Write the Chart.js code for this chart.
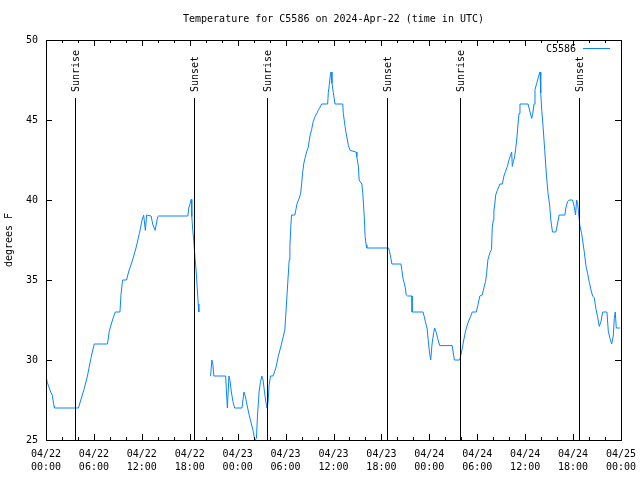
<!DOCTYPE html>
<html>
<head>
<meta charset="utf-8">
<script src="https://cdn.jsdelivr.net/npm/chart.js@4/dist/chart.umd.min.js"></script>
<style>
  html, body { margin: 0; padding: 0; background: #fff; }
  canvas { display: block; }
</style>
</head>
<body>
<canvas id="tempChart" width="640" height="480"></canvas>
<script>
// Data (hours since 04/22 00:00 UTC, degrees F); null = gap in the record
const hours = [
  0, 0.16, 0.59, 0.79, 1.01, 1.07, 4.06, 4.36, 4.78, 5.19, 5.62, 6.03, 7.70, 7.92, 8.33, 8.67,
  9.26, 9.39, 9.59, 10.09, 10.34, 10.84, 11.27, 11.69, 12.03, 12.23, 12.44, 12.60, 13.16, 13.36,
  13.66, 13.99, 14.11, 17.76, 17.88, 18.06, 18.18, 18.26, 18.38, 18.51, 18.64, 18.81, 18.94,
  19.06, 19.14, 19.9,
  20.61, 20.77, 20.90, 21.02, 22.49, 22.71, 22.91, 23.03, 23.21, 23.41, 23.62, 24.54, 24.79,
  24.97, 25.17, 25.42, 25.72, 25.92, 26.14, 26.35, 26.48, 26.68, 26.85, 27.02, 27.18, 27.36,
  27.52, 27.68, 27.81, 27.93, 28.11, 28.44, 28.78, 29.07, 29.49, 29.91, 30.45, 30.54, 30.66,
  30.75, 31.16, 31.29, 31.45, 31.70, 31.88, 32.01, 32.13, 32.29, 32.42, 32.63, 32.84, 33.05,
  33.26, 33.46, 33.68, 33.89, 34.09, 34.31, 34.52, 35.27, 35.35, 35.47, 35.60, 35.69, 35.81,
  35.98, 36.19, 37.16, 37.23, 37.45, 37.57, 37.74, 37.86, 38.08, 38.83, 38.92, 39.12, 39.21,
  39.55, 39.67, 39.75, 39.87, 39.96, 40.09, 40.17, 42.89, 43.01, 43.19, 43.31, 44.45, 44.57,
  44.70, 44.86, 44.99, 45.11, 45.28, 45.83, 45.84, 47.21, 47.37, 47.50, 47.71, 47.91, 48.04,
  48.17, 48.34, 48.54, 48.67, 48.88, 49.04, 49.30, 50.86, 50.98, 51.14, 51.81, 51.90, 52.11,
  52.31, 52.53, 52.82, 53.15, 53.37, 53.87, 54.07, 54.32, 54.62, 54.83, 55.04, 55.17, 55.33,
  55.58, 55.79, 55.88, 56.01, 56.08, 56.21, 56.30, 56.51, 56.84, 57.14, 57.34, 57.55, 57.77,
  57.97, 58.18, 58.31, 58.39, 58.52, 58.68, 58.81, 58.94, 59.10, 59.23, 59.35, 60.36, 60.61,
  60.82, 60.95, 61.11, 61.23, 61.45, 61.66, 61.86, 61.95, 62.08, 62.24, 62.45, 62.67, 62.87,
  63.08, 63.21, 63.42, 63.84, 64.05, 64.25, 64.97, 65.09, 65.31, 65.51, 65.93, 66.14, 66.31,
  66.44, 66.56, 66.69, 66.85, 67.07, 67.19, 67.39, 67.61, 67.82, 68.02, 68.23, 68.45, 68.65,
  68.86, 69.07, 69.28, 69.49, 69.70, 70.24, 70.41, 70.62, 70.83, 71.03, 71.16, 71.28, 71.41,
  71.88
];
const temps = [
  29.0, 28.6, 28.0, 27.8, 27.1, 27.0, 27.0, 27.5, 28.2, 29.0, 30.1, 31.0, 31.0, 31.8, 32.5, 33.0,
  33.0, 34.1, 35.0, 35.0, 35.5, 36.25, 37.0, 37.9, 38.75, 39.06, 38.1, 39.06, 39.0, 38.5,
  38.1, 38.96, 39.0, 39.0, 39.5, 39.8, 40.04, 38.96, 38.1, 37.4, 36.5, 35.5, 34.5,
  33.5, 33.0, null,
  29.0, 30.0, 29.7, 29.0, 29.0, 27.0, 29.0, 28.75, 28.0, 27.4, 27.0, 27.0, 28.0,
  27.7, 27.2, 26.6, 26.0, 25.6, 25.0, 25.1, 26.5, 28.0, 28.6, 29.0, 28.75, 28.0,
  27.4, 27.0, 27.4, 28.4, 29.0, 29.0, 29.5, 30.2, 31.0, 31.9, 36.25, 37.1, 38.4,
  39.06, 39.06, 39.4, 39.8, 40.1, 40.4, 41.0, 41.7, 42.3, 42.6, 43.0, 43.3, 44.0,
  44.4, 44.9, 45.2, 45.4, 45.6, 45.8, 46.0, 46.0, 46.7, 47.2, 47.8, 48.0, 47.3,
  46.7, 46.0, 46.0, 45.4, 44.6, 44.2, 43.75, 43.4, 43.1, 43.0, 42.7, 42.1, 41.25,
  41.0, 40.4, 39.8, 38.75, 37.7, 37.2, 37.0, 37.0, 36.8, 36.35, 36.0, 36.0, 35.6,
  35.1, 34.8, 34.5, 34.06, 34.0, 34.0, 33.0, 33.0, 32.7, 32.4, 32.0, 31.0, 30.4,
  30.0, 31.0, 31.7, 32.0, 31.7, 31.35, 30.9, 30.9, 30.5, 30.0, 30.0, 30.2, 30.7,
  31.25, 31.8, 32.3, 32.7, 33.0, 33.0, 33.4, 34.0, 34.06, 34.5, 34.9, 35.4, 36.25,
  36.7, 36.9, 38.3, 38.75, 39.3, 39.8, 40.3, 40.6, 41.0, 41.0, 41.5, 41.8, 42.1,
  42.5, 42.8, 43.0, 42.1, 42.4, 42.7, 43.2, 43.75, 44.7, 45.4, 46.0, 46.0, 45.5,
  45.1, 45.4, 46.0, 46.9, 47.3, 47.7, 48.0, 46.7, 45.6, 44.6, 43.1, 41.5, 40.4,
  39.6, 38.75, 38.0, 38.0, 38.5, 39.06, 39.06, 39.5, 39.9, 40.0, 40.0, 39.6, 39.06,
  40.0, 39.8, 39.2, 38.4, 37.9, 37.5, 36.8, 35.9, 35.4, 34.9, 34.4, 34.0, 33.9,
  33.2, 32.7, 32.1, 32.4, 33.0, 33.0, 31.8, 31.35, 31.0, 31.5, 32.6, 33.0, 32.0,
  32.0
];

// Sun events (hours since 04/22 00:00 UTC)
const sunEvents = ['Sunrise', 'Sunset', 'Sunrise', 'Sunset', 'Sunrise', 'Sunset'];
const sunHours = [3.68, 18.51, 27.66, 42.64, 51.80, 66.76];

const xTickLabels = [
  ['04/22', '00:00'], ['04/22', '06:00'], ['04/22', '12:00'], ['04/22', '18:00'],
  ['04/23', '00:00'], ['04/23', '06:00'], ['04/23', '12:00'], ['04/23', '18:00'],
  ['04/24', '00:00'], ['04/24', '06:00'], ['04/24', '12:00'], ['04/24', '18:00'],
  ['04/25', '00:00']
];
const yTicks = [25, 30, 35, 40, 45, 50];

const titleText = 'Temperature for C5586 on 2024-Apr-22 (time in UTC)';
const seriesName = 'C5586';
const lineColor = '#0a84ff';
const FONT = '10px "DejaVu Sans Mono", "Liberation Mono", monospace';

const points = hours.map((h, i) => ({ x: h, y: temps[i] }));

// Frame, inward ticks, sun lines, title and legend
const decorPlugin = {
  id: 'decor',
  afterDraw(chart) {
    const ctx = chart.ctx;
    const area = chart.chartArea;
    const xs = chart.scales.x;
    const ys = chart.scales.y;
    ctx.save();
    ctx.strokeStyle = '#000';
    ctx.lineWidth = 1;

    // frame
    ctx.strokeRect(Math.round(area.left) + 0.5, Math.round(area.top) + 0.5,
      Math.round(area.right - area.left), Math.round(area.bottom - area.top));

    // x ticks (major every 6 h, minor every 2 h), bottom and top
    ctx.beginPath();
    for (let h = 0; h <= 72; h += 2) {
      const px = Math.round(xs.getPixelForValue(h)) + 0.5;
      const len = h % 6 === 0 ? 6 : 3;
      ctx.moveTo(px, area.bottom);
      ctx.lineTo(px, area.bottom - len);
      ctx.moveTo(px, area.top);
      ctx.lineTo(px, area.top + len);
    }
    // y ticks, left and right
    yTicks.forEach(v => {
      const py = Math.round(ys.getPixelForValue(v)) + 0.5;
      ctx.moveTo(area.left, py);
      ctx.lineTo(area.left + 6, py);
      ctx.moveTo(area.right, py);
      ctx.lineTo(area.right - 6, py);
    });
    ctx.stroke();

    // sunrise / sunset markers
    ctx.font = FONT;
    ctx.fillStyle = '#000';
    sunHours.forEach((h, i) => {
      const px = Math.round(xs.getPixelForValue(h)) + 0.5;
      ctx.beginPath();
      ctx.moveTo(px, 98);
      ctx.lineTo(px, area.bottom);
      ctx.stroke();
      ctx.save();
      ctx.translate(px + 1, 92);
      ctx.rotate(-Math.PI / 2);
      ctx.textAlign = 'left';
      ctx.textBaseline = 'middle';
      ctx.fillText(sunEvents[i], 0, 0);
      ctx.restore();
    });

    // title
    ctx.textAlign = 'center';
    ctx.textBaseline = 'middle';
    ctx.fillText(titleText, (area.left + area.right) / 2, 19);

    // legend
    ctx.textAlign = 'right';
    ctx.fillText(seriesName, 576, 49);
    ctx.strokeStyle = lineColor;
    ctx.beginPath();
    ctx.moveTo(583, 48.5);
    ctx.lineTo(610, 48.5);
    ctx.stroke();
    ctx.restore();
  }
};

const ctx = document.getElementById('tempChart').getContext('2d');
const tempChart = new Chart(ctx, {
  type: 'line',
  data: {
    datasets: [{
      label: seriesName,
      data: points,
      borderColor: lineColor,
      borderWidth: 1,
      pointRadius: 0,
      tension: 0,
      spanGaps: false,
      fill: false
    }]
  },
  options: {
    responsive: false,
    animation: false,
    devicePixelRatio: 1,
    layout: { padding: { top: 40, right: 19, left: 0, bottom: 0 } },
    plugins: {
      legend: { display: false },
      title: { display: false },
      tooltip: { enabled: false }
    },
    scales: {
      x: {
        type: 'linear',
        min: 0,
        max: 72,
        grid: { display: false, drawTicks: false },
        border: { display: false },
        ticks: {
          stepSize: 6,
          autoSkip: false,
          maxRotation: 0,
          padding: 8,
          color: '#000',
          font: { family: '"DejaVu Sans Mono", monospace', size: 10, lineHeight: 1.3 },
          callback: v => xTickLabels[Math.round(v / 6)]
        },
        afterFit: scale => {
          scale.height = 40;
          scale.paddingLeft = 0;
          scale.paddingRight = 0;
        }
      },
      y: {
        min: 25,
        max: 50,
        grid: { display: false, drawTicks: false },
        border: { display: false },
        ticks: {
          stepSize: 5,
          padding: 8,
          color: '#000',
          font: { family: '"DejaVu Sans Mono", monospace', size: 10 }
        },
        title: {
          display: true,
          text: 'degrees F',
          color: '#000',
          padding: { top: 3, bottom: 0 },
          font: { family: '"DejaVu Sans Mono", monospace', size: 10 }
        },
        afterFit: scale => { scale.width = 46; }
      }
    }
  },
  plugins: [decorPlugin]
});
</script>
</body>
</html>
